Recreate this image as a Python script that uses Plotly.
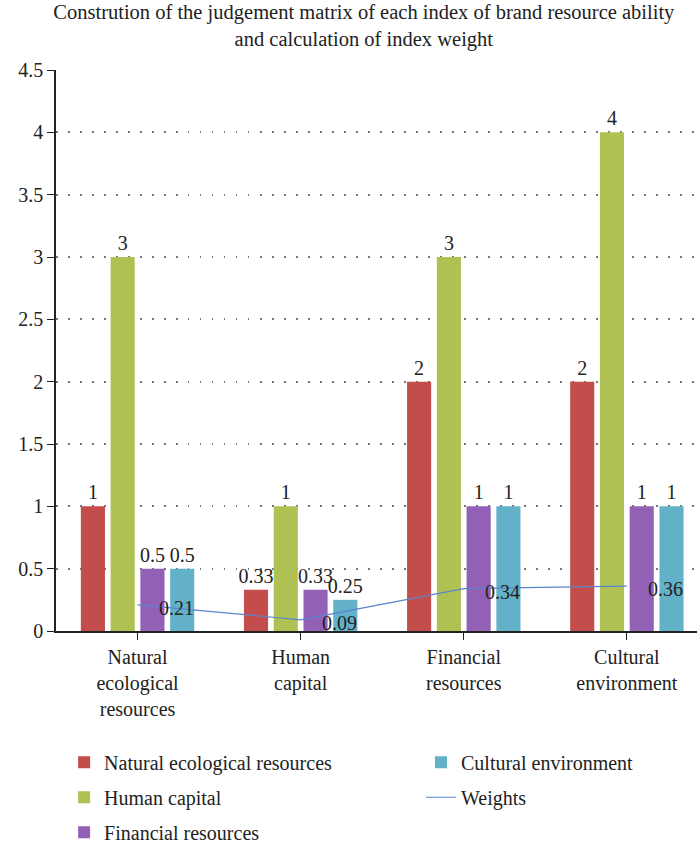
import plotly.graph_objects as go

categories = ["Natural<br>ecological<br>resources", "Human<br>capital", "Financial<br>resources", "Cultural<br>environment"]
natural = [1, 0.33, 2, 2]
human = [3, 1, 3, 4]
financial = [0.5, 0.33, 1, 1]
cultural = [0.5, 0.25, 1, 1]
weights = [0.21, 0.09, 0.34, 0.36]

series_names = ["Natural ecological resources", "Human capital", "Financial resources", "Cultural environment"]
colors = ["#C34D4A", "#AEC152", "#9260B4", "#62B1C8"]
series = [natural, human, financial, cultural]

FONT = "Liberation Serif, DejaVu Serif, serif"
FS = 20
fig = go.Figure()
for i, (name, vals, col) in enumerate(zip(series_names, series, colors)):
    fig.add_trace(go.Bar(
        x=categories, y=vals, name=name, marker=dict(color=col, line=dict(width=0)),
        text=[f"{v:g}" for v in vals], textposition="outside", cliponaxis=False,
        textfont=dict(family=FONT, size=FS, color="#222"), constraintext="none",
        legend="legend" if i < 3 else "legend2", legendgroup=name,
    ))

fig.add_trace(go.Scatter(
    x=categories, y=weights, name="Weights", mode="lines",
    line=dict(color="#5B84D0", width=1.2), legend="legend2", legendgroup="Weights",
))

for c, w in zip(categories, weights):
    fig.add_annotation(x=c, y=w, text=f"{w:g}", showarrow=False, xanchor="left",
                       xshift=19, yshift=-3, font=dict(family=FONT, size=FS, color="#222"))

fig.update_layout(
    width=697, height=845,
    margin=dict(l=56, r=0, t=70, b=214, autoexpand=False),
    paper_bgcolor="white", plot_bgcolor="white",
    font=dict(family=FONT, size=FS, color="#222"),
    uniformtext=dict(minsize=FS, mode="show"),
    title=dict(text="Constrution of the judgement matrix of each index of brand resource ability<br>and calculation of index weight",
               x=0.522, xanchor="center", yref="container", y=0.977, yanchor="middle",
               font=dict(family=FONT, size=20.5, color="#222")),
    barmode="group", bargap=0.27, bargroupgap=0.19,
    legend=dict(xref="container", yref="container", x=0.092, y=0.121, xanchor="left", yanchor="top",
                orientation="v", tracegroupgap=6, font=dict(family=FONT, size=FS, color="#222"),
                bgcolor="rgba(0,0,0,0)"),
    legend2=dict(xref="container", yref="container", x=0.604, y=0.121, xanchor="left", yanchor="top",
                 orientation="v", tracegroupgap=6, font=dict(family=FONT, size=FS, color="#222"),
                 bgcolor="rgba(0,0,0,0)"),
    showlegend=True,
)
fig.update_yaxes(range=[0, 4.5], dtick=0.5, showline=True, linecolor="#222", linewidth=1.5,
                 ticks="outside", ticklen=7, tickcolor="#222", showgrid=True, gridcolor="#777",
                 griddash="1.5px,10.5px", gridwidth=1.5, zeroline=False, automargin=False,
                 tickfont=dict(family=FONT, size=FS, color="#222"))
fig.update_xaxes(type="category", range=[-0.5, 3.43], showline=True, linecolor="#222", linewidth=1.5,
                 ticks="outside", ticklen=7, tickcolor="#222", showgrid=False, automargin=False,
                 tickangle=0, tickfont=dict(family=FONT, size=FS, color="#222"))

fig.write_html("out.html")
